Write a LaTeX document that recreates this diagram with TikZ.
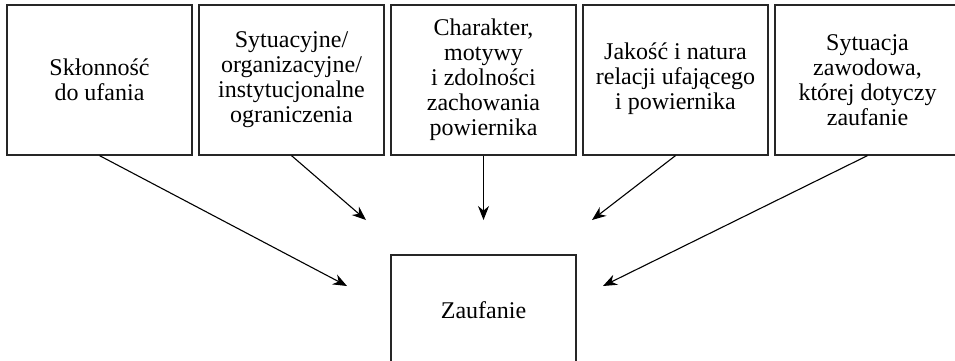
\documentclass[tikz,border=0pt]{standalone}
\usepackage{fontspec}
\setmainfont{Liberation Serif}
\usetikzlibrary{arrows.meta}

\tikzset{
  factor/.style={draw=black!85, line width=1.2pt, minimum width=185pt,
    minimum height=150pt, inner sep=0pt, align=center,
    font=\fontsize{24}{25}\selectfont},
  result/.style={factor, minimum height=110pt},
  influence/.style={line width=1.1pt, -{Stealth[length=14pt,width=11pt]}}
}

\begin{document}
\begin{tikzpicture}[x=1pt, y=-1pt]
  \clip (0,0) rectangle (955,360);
  \useasboundingbox (0,0) rectangle (955,360);

  % top row of factors
  \node[factor] (f1) at (99.5,80)  {Skłonność\\do ufania};
  \node[factor] (f2) at (291.5,80) {Sytuacyjne/\\organizacyjne/\\instytucjonalne\\ograniczenia};
  \node[factor] (f3) at (483.5,80) {Charakter,\\motywy\\i zdolności\\zachowania\\powiernika};
  \node[factor, text depth=8pt] (f4) at (675.5,80) {Jakość i natura\\relacji ufającego\\i powiernika};
  \node[factor] (f5) at (867.5,80) {Sytuacja\\zawodowa,\\której dotyczy\\zaufanie};

  % central outcome
  \node[result] (trust) at (483.5,310) {Zaufanie};

  % arrow tips stop short of the outcome box
  \coordinate (t1) at (347,286);
  \coordinate (t2) at (366,220);
  \coordinate (t3) at (483.5,220);
  \coordinate (t4) at (592,220);
  \coordinate (t5) at (603,286);

  \draw[influence] (f1.south) -- (t1);
  \draw[influence] (f2.south) -- (t2);
  \draw[influence] (f3.south) -- (t3);
  \draw[influence] (f4.south) -- (t4);
  \draw[influence] (f5.south) -- (t5);
\end{tikzpicture}
\end{document}
